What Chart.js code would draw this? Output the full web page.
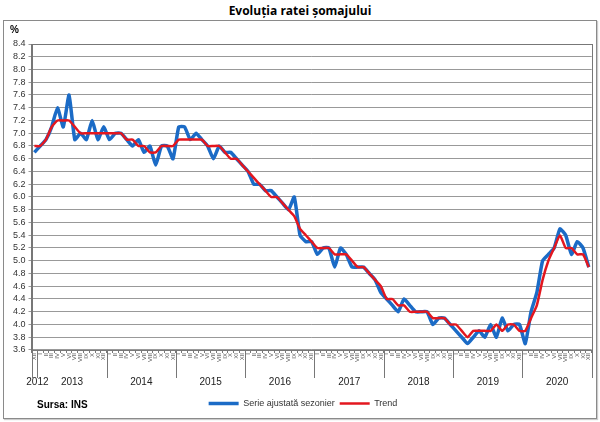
<!DOCTYPE html>
<html>
<head>
<meta charset="utf-8">
<script src="https://cdn.jsdelivr.net/npm/chart.js@4.4.1/dist/chart.umd.min.js"></script>
<style>
    body { margin: 0; width: 600px; height: 422px; background: #fff; position: relative; overflow: hidden; }
    #title { position: absolute; top: 2px; left: 0; width: 600px; text-align: center;
             font: bold 12px "Open Sans", sans-serif; color: #000; }
    #frame { position: absolute; left: 3px; top: 20px; width: 592px; height: 397px;
             border: 1px solid #8a8a8a; box-shadow: 1px 1px 1px #ccc; }
</style>
</head>
<body>
<div id="title">Evoluția ratei șomajului</div>
<div id="frame"><canvas id="myChart" width="592" height="397"></canvas></div>
<script>
// tick labels
const monthNames = ['I', 'II', 'III', 'IV', 'V', 'VI', 'VII', 'VIII', 'IX', 'X', 'XI', 'XII'];
const yearNames = ['2012', '2013', '2014', '2015', '2016', '2017', '2018', '2019', '2020'];

// series values, monthly from XII 2012 to XII 2020
const seasonal = [
    6.7,
    6.8, 6.9, 7.1, 7.4, 7.1, 7.6, 6.9, 7.0, 6.9, 7.2, 6.9, 7.1,
    6.9, 7.0, 7.0, 6.9, 6.8, 6.9, 6.7, 6.8, 6.5, 6.8, 6.8, 6.6,
    7.1, 7.1, 6.9, 7.0, 6.9, 6.8, 6.6, 6.8, 6.7, 6.7, 6.6, 6.5,
    6.4, 6.2, 6.2, 6.1, 6.1, 6.0, 5.9, 5.8, 6.0, 5.4, 5.3, 5.3,
    5.1, 5.2, 5.2, 4.9, 5.2, 5.1, 4.9, 4.9, 4.9, 4.8, 4.7, 4.5,
    4.4, 4.3, 4.2, 4.4, 4.3, 4.2, 4.2, 4.2, 4.0, 4.1, 4.1, 4.0,
    3.9, 3.8, 3.7, 3.8, 3.9, 3.8, 4.0, 3.8, 4.1, 3.9, 4.0, 4.0,
    3.7, 4.2, 4.5, 5.0, 5.1, 5.2, 5.5, 5.4, 5.1, 5.3, 5.2, 4.9
];
const trend = [
    6.8,
    6.8, 6.9, 7.1, 7.2, 7.2, 7.2, 7.1, 7.0, 7.0, 7.0, 7.0, 7.0,
    7.0, 7.0, 7.0, 6.9, 6.9, 6.8, 6.8, 6.7, 6.7, 6.8, 6.8, 6.8,
    6.9, 6.9, 6.9, 6.9, 6.9, 6.8, 6.8, 6.8, 6.7, 6.6, 6.6, 6.5,
    6.4, 6.3, 6.2, 6.1, 6.0, 6.0, 5.9, 5.8, 5.7, 5.5, 5.4, 5.3,
    5.2, 5.2, 5.2, 5.1, 5.1, 5.1, 5.0, 4.9, 4.9, 4.8, 4.7, 4.6,
    4.4, 4.4, 4.3, 4.3, 4.2, 4.2, 4.2, 4.2, 4.1, 4.1, 4.1, 4.0,
    4.0, 3.9, 3.8, 3.9, 3.9, 3.9, 3.9, 4.0, 3.9, 4.0, 4.0, 3.9,
    3.9, 4.1, 4.3, 4.7, 5.0, 5.2, 5.4, 5.2, 5.2, 5.1, 5.1, 4.9
];

// build the month categories and the year row
let months = ['XII'];
let yearRow = [yearNames[0]];
for (let y = 1; y < yearNames.length; y++) {
    for (let m = 0; m < 12; m++) {
        months.push(monthNames[m]);
        yearRow.push(m === 5 ? yearNames[y] : '');
    }
}

// draws the plot box, the year separators and the source text
const extrasPlugin = {
    id: 'extras',
    afterDraw: function (chart) {
        const ctx = chart.ctx;
        const a = chart.chartArea;
        const xs = chart.scales.x;
        const x2 = chart.scales.x2;
        const half = (xs.getPixelForValue(1) - xs.getPixelForValue(0)) / 2;
        ctx.save();
        ctx.strokeStyle = '#777';
        ctx.lineWidth = 1;
        ctx.strokeRect(Math.round(a.left) + 0.5, Math.round(a.top) + 0.5,
            Math.round(a.right - a.left), Math.round(a.bottom - a.top));
        ctx.beginPath();
        for (let i = 0; i < months.length; i++) {
            if (i === 0 || months[i] === 'I') {
                let px = Math.round(xs.getPixelForValue(i) - half) + 0.5;
                ctx.moveTo(px, a.bottom);
                ctx.lineTo(px, x2.top + 16);
            }
        }
        let endX = Math.round(xs.getPixelForValue(months.length - 1) + half) + 0.5;
        ctx.moveTo(endX, a.bottom);
        ctx.lineTo(endX, x2.top + 16);
        ctx.stroke();
        // source
        const lg = chart.legend;
        ctx.fillStyle = '#000';
        ctx.font = 'bold 10px "Liberation Sans"';
        ctx.textBaseline = 'middle';
        ctx.fillText('Sursa: INS', 33, lg.top + lg.height / 2 - 1);
        ctx.restore();
    }
};

const ctx = document.getElementById('myChart').getContext('2d');
const myChart = new Chart(ctx, {
    type: 'line',
    data: {
        labels: months,
        datasets: [{
            label: 'Serie ajustată sezonier',
            data: seasonal,
            borderColor: '#1b6bc6',
            backgroundColor: '#1b6bc6',
            borderWidth: 3.5,
            pointRadius: 0,
            tension: 0.15,
            order: 2
        }, {
            label: 'Trend',
            data: trend,
            borderColor: '#e3171f',
            backgroundColor: '#e3171f',
            borderWidth: 2.5,
            pointRadius: 0,
            tension: 0.15,
            order: 1
        }]
    },
    options: {
        responsive: false,
        animation: false,
        layout: { padding: { left: 6, right: 0, top: 0, bottom: 0 } },
        plugins: {
            title: {
                display: true,
                text: '%',
                align: 'start',
                color: '#000',
                font: { family: 'Liberation Sans', size: 10, weight: 'bold' },
                padding: { top: 3, bottom: 8 }
            },
            legend: {
                position: 'bottom',
                labels: {
                    usePointStyle: true,
                    pointStyle: 'line',
                    pointStyleWidth: 30,
                    color: '#333',
                    padding: 5,
                    font: { family: 'Liberation Sans', size: 9 },
                    sort: function (a, b) { return a.datasetIndex - b.datasetIndex; }
                }
            },
            tooltip: { enabled: false }
        },
        scales: {
            x: {
                offset: true,
                grid: { drawOnChartArea: false, offset: true, tickLength: 3, color: '#777' },
                border: { display: false },
                ticks: {
                    autoSkip: false,
                    minRotation: 90,
                    maxRotation: 90,
                    padding: 0,
                    color: '#444',
                    font: { family: 'Liberation Sans', size: 6 }
                }
            },
            x2: {
                type: 'category',
                position: 'bottom',
                labels: yearRow,
                offset: true,
                grid: { display: false },
                border: { display: false },
                ticks: {
                    autoSkip: false,
                    maxRotation: 0,
                    padding: 6,
                    labelOffset: 3,
                    color: '#222',
                    font: { family: 'Liberation Sans', size: 10 }
                }
            },
            y: {
                min: 3.6,
                max: 8.4,
                grid: { color: '#999', borderDash: [1, 1], tickLength: 3 },
                border: { color: '#777' },
                ticks: {
                    stepSize: 0.2,
                    autoSkip: false,
                    padding: 3,
                    color: '#333',
                    font: { family: 'Liberation Sans', size: 9 },
                    callback: function (v) { return v.toFixed(1); }
                }
            }
        }
    },
    plugins: [extrasPlugin]
});
</script>
</body>
</html>
